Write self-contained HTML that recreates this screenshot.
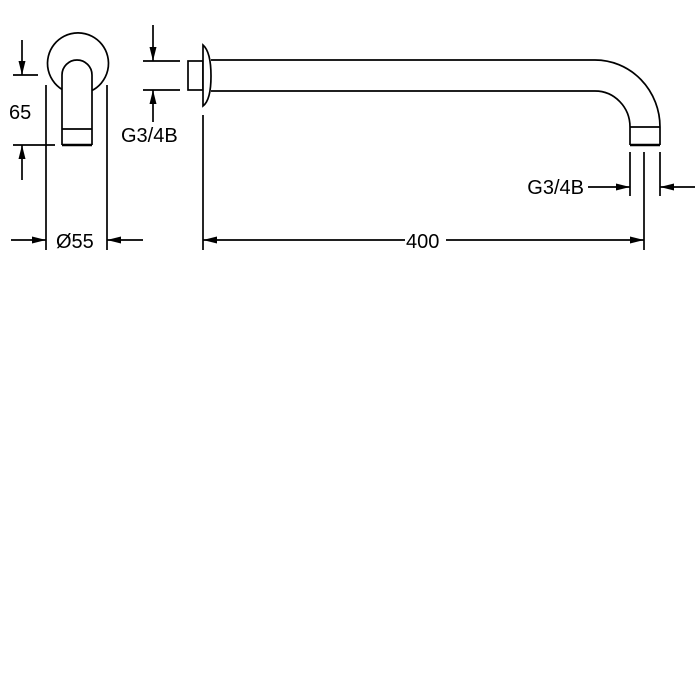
<!DOCTYPE html>
<html><head><style>html,body{margin:0;padding:0;background:#fff;}svg{display:block}</style></head>
<body>
<svg width="700" height="700" viewBox="0 0 700 700" xmlns="http://www.w3.org/2000/svg">
<defs>
<marker id="a" viewBox="0 0 14 8" refX="14" refY="4" markerWidth="14" markerHeight="8" markerUnits="userSpaceOnUse" orient="auto"><path d="M0,0.5L14,4L0,7.5z" fill="#000"/></marker>
</defs>
<g fill="none" stroke="#000" stroke-width="1.7">
<path d="M65,91 A30.5,30.5 0 1 1 91,91"/>
<path d="M62,145 L62,75 A15,15 0 0 1 92,75 L92,145" fill="#fff"/>
<line x1="62" y1="129" x2="92" y2="129"/>
<line x1="62" y1="145" x2="92" y2="145" stroke-width="2.5"/>
<line x1="46" y1="85" x2="46" y2="250"/>
<line x1="107" y1="85" x2="107" y2="250"/>
<line x1="11" y1="240" x2="46" y2="240" marker-end="url(#a)"/>
<line x1="143" y1="240" x2="107" y2="240" marker-end="url(#a)"/>
<line x1="13" y1="75" x2="38" y2="75"/>
<line x1="13" y1="145" x2="55" y2="145"/>
<line x1="22" y1="40" x2="22" y2="75" marker-end="url(#a)"/>
<line x1="22" y1="180" x2="22" y2="145" marker-end="url(#a)"/>
<rect x="188" y="61" width="15" height="29"/>
<path d="M203,45 L203,106 Q211,100 211,76 Q211,52 203,45z" fill="#fff"/>
<line x1="143" y1="61" x2="180" y2="61"/>
<line x1="143" y1="90" x2="180" y2="90"/>
<line x1="153" y1="25" x2="153" y2="61" marker-end="url(#a)"/>
<line x1="153" y1="122" x2="153" y2="90" marker-end="url(#a)"/>
<line x1="203" y1="115" x2="203" y2="250"/>
<path d="M211,60 L595,60 A65,67 0 0 1 660,127 L660,145"/>
<path d="M211,91 L595,91 A35,36 0 0 1 630,127 L630,145"/>
<line x1="630" y1="127" x2="660" y2="127"/>
<line x1="630" y1="145" x2="660" y2="145" stroke-width="2.5"/>
<line x1="630" y1="152" x2="630" y2="196"/>
<line x1="660" y1="152" x2="660" y2="196"/>
<line x1="644" y1="152" x2="644" y2="250"/>
<line x1="588" y1="187" x2="630" y2="187" marker-end="url(#a)"/>
<line x1="695" y1="187" x2="660" y2="187" marker-end="url(#a)"/>
<line x1="405" y1="240" x2="203" y2="240" marker-end="url(#a)"/>
<line x1="446" y1="240" x2="644" y2="240" marker-end="url(#a)"/>
</g>
<g font-family="Liberation Sans, sans-serif" font-size="20" fill="#000">
<text x="9" y="119">65</text>
<text x="56" y="248">Ø55</text>
<text x="121" y="142">G3/4B</text>
<text x="406" y="248">400</text>
<text x="584" y="194" text-anchor="end">G3/4B</text>
</g>
</svg>
</body></html>
